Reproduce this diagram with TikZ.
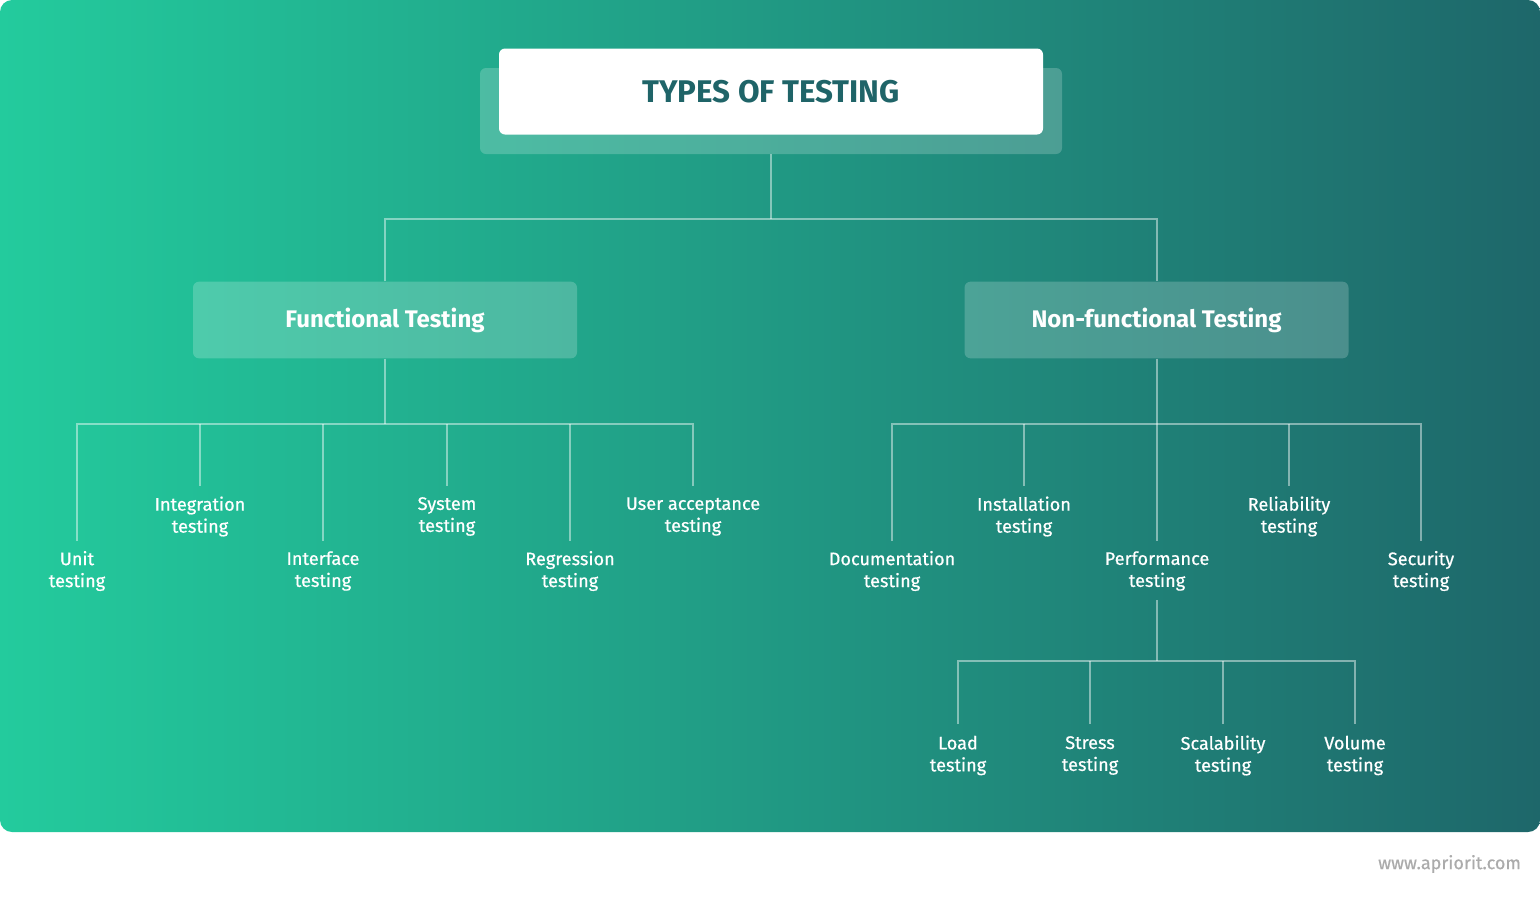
\documentclass[tikz,border=0pt]{standalone}
\usepackage{fontspec}
\setmainfont{Fira Sans}
\newfontfamily\fsmed{Fira Sans}[FakeBold=0.6]
\usetikzlibrary{calc}
\definecolor{gl}{HTML}{23CB9D}
\definecolor{gr}{HTML}{1E676A}
\definecolor{ttl}{HTML}{1F6468}
\definecolor{wm}{HTML}{ABABAB}
\begin{document}
\begin{tikzpicture}[x=0.75pt,y=-0.75pt,
  conn/.style={draw=white, draw opacity=0.45, line width=1.5pt},
  leaf/.style={text=white, align=center, inner sep=0pt, font=\fsmed\fontsize{13.6}{16.5}\selectfont},
  catbox/.style={fill=white, fill opacity=0.2, text opacity=1, text=white, rounded corners=4.5pt,
    minimum width=288pt, minimum height=57.5pt, inner sep=0pt, font=\bfseries\fontsize{18}{22}\selectfont}
]
\useasboundingbox (0,0) rectangle (1540,904);
\shade[left color=gl, right color=gr, rounded corners=9pt] (0,0) rectangle (1540,832);

% title
\node[fill=white, fill opacity=0.2, rounded corners=4.5pt, minimum width=436.5pt, minimum height=64.5pt, inner sep=0pt] (titleback) at (771,111) {};
\node[fill=white, rounded corners=4.5pt, minimum width=408pt, minimum height=64.5pt, inner sep=0pt, text=ttl, font=\bfseries\fontsize{23.5}{26}\selectfont] (title) at (771,91.5) {TYPES OF TESTING};

% categories
\node[catbox] (ft) at (385,320) {Functional Testing};
\node[catbox] (nft) at (1156.5,320) {Non-functional Testing};

% functional leaves
\node[leaf] (unit) at (77,571) {Unit\\testing};
\node[leaf] (integ) at (200,516.5) {Integration\\testing};
\node[leaf] (iface) at (323,571) {Interface\\testing};
\node[leaf] (sys) at (447,516.5) {System\\testing};
\node[leaf] (regr) at (570,571) {Regression\\testing};
\node[leaf] (ua) at (693,516.5) {User acceptance\\testing};

% non-functional leaves
\node[leaf] (doc) at (892,571) {Documentation\\testing};
\node[leaf] (inst) at (1024,516.5) {Installation\\testing};
\node[leaf] (perf) at (1157,571) {Performance\\testing};
\node[leaf] (rel) at (1289,516.5) {Reliability\\testing};
\node[leaf] (sec) at (1421,571) {Security\\testing};

% performance leaves
\node[leaf] (load) at (958,755.5) {Load\\testing};
\node[leaf] (stress) at (1090,755.5) {Stress\\testing};
\node[leaf] (scal) at (1223,755.5) {Scalability\\testing};
\node[leaf] (vol) at (1355,755.5) {Volume\\testing};

% watermark
\node[text=wm, font=\fsmed\fontsize{13.5}{15}\selectfont, inner sep=0pt] (www) at (1449.5,864) {www.apriorit.com};

% connectors: title
\draw[conn] (titleback.south) -- ++(0,65) coordinate (b1);
\draw[conn] (ft.north) |- (b1) -| (nft.north);

% functional bus
\draw[conn] (ft.south) -- ++(0,65) coordinate (b2);
\draw[conn] ($(unit.center)+(0,-30)$) |- (b2) -| ($(ua.center)+(0,-30.5)$);
\draw[conn] (b2 -| integ) -- ($(integ.center)+(0,-30.5)$);
\draw[conn] (b2 -| iface) -- ($(iface.center)+(0,-30)$);
\draw[conn] (b2 -| sys) -- ($(sys.center)+(0,-30.5)$);
\draw[conn] (b2 -| regr) -- ($(regr.center)+(0,-30)$);

% non-functional bus
\draw[conn] (nft.south) -- ++(0,65) coordinate (b3);
\draw[conn] ($(doc.center)+(0,-30)$) |- (b3) -| ($(sec.center)+(0,-30)$);
\draw[conn] (b3 -| inst) -- ($(inst.center)+(0,-30.5)$);
\draw[conn] (b3 -| perf) -- ($(perf.center)+(0,-30)$);
\draw[conn] (b3 -| rel) -- ($(rel.center)+(0,-30.5)$);

% performance bus
\draw[conn] ($(perf.center)+(0,29)$) -- ++(0,61) coordinate (b4);
\draw[conn] ($(load.center)+(0,-31.5)$) |- (b4) -| ($(vol.center)+(0,-31.5)$);
\draw[conn] (b4 -| stress) -- ($(stress.center)+(0,-31.5)$);
\draw[conn] (b4 -| scal) -- ($(scal.center)+(0,-31.5)$);
\end{tikzpicture}
\end{document}
